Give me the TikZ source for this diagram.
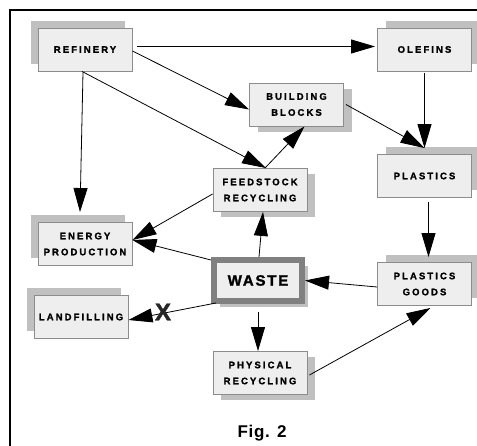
\documentclass[tikz,border=0pt]{standalone}
\usepackage{fontspec}
\usepackage{tikz}
\usetikzlibrary{arrows.meta,shadows}
\setmainfont{Liberation Sans}
\newfontfamily\boxfont[LetterSpace=22,FakeBold=1.4]{Liberation Sans Bold}
\newfontfamily\wastefont[LetterSpace=12,FakeBold=1.6]{Liberation Sans Bold}
\newfontfamily\figfont[LetterSpace=4]{Liberation Sans Bold}
\definecolor{boxfill}{HTML}{EEEEEE}
\definecolor{boxedge}{HTML}{8C8C8C}
\definecolor{shadowgray}{HTML}{C0C0C0}
\definecolor{wasteedge}{HTML}{808080}
\begin{document}
\begin{tikzpicture}[x=1pt, y=-1pt,
    box/.style={draw=boxedge, line width=0.9pt, fill=boxfill, minimum width=94pt, minimum height=43pt,
      inner sep=0pt, align=center, font=\boxfont\fontsize{9.5}{16}\selectfont},
    shadowul/.style={general shadow={fill=shadowgray, shadow xshift=-7pt, shadow yshift=7pt}},
    shadowur/.style={general shadow={fill=shadowgray, shadow xshift=8pt, shadow yshift=7pt}},
    shadowdr/.style={general shadow={fill=shadowgray, shadow xshift=8pt, shadow yshift=-6pt}},
    link/.style={line width=0.8pt, -{Triangle[length=24pt, width=14pt]}}]
    \useasboundingbox (0,0) rectangle (477,446);
    \draw [line width=1.1pt] (10,446) -- (10,10) -- (477,10);

    \node [box, shadowul] (refinery) at (85,49.5) {REFINERY};
    \node [box, shadowur] (olefins) at (424.5,49.5) {OLEFINS};
    \node [box, shadowdr] (blocks) at (296.5,104.5) {BUILDING\\BLOCKS};
    \node [box, shadowur] (plastics) at (424.5,176) {PLASTICS};
    \node [box, shadowdr] (feedstock) at (260,190) {FEEDSTOCK\\RECYCLING};
    \node [box, shadowul] (energy) at (85,244) {ENERGY\\PRODUCTION};
    \node [box, shadowul] (landfill) at (81,317) {LANDFILLING};
    \node [box, draw=wasteedge, line width=6pt, minimum width=88pt, minimum height=41pt,
      general shadow={fill=shadowgray, shadow xshift=6pt, shadow yshift=-6pt},
      font=\wastefont\fontsize{15}{18}\selectfont] (waste) at (258,280.5) {WASTE};
    \node [box, shadowdr] (physical) at (260,373) {PHYSICAL\\RECYCLING};
    \node [box, shadowur] (goods) at (424.5,284) {PLASTICS\\GOODS};

    \draw [link] ([xshift=5pt,yshift=3pt]refinery.east) -- ([xshift=-2pt,yshift=3pt]olefins.west);
    \draw [link] ([yshift=-1.5pt]refinery.east) -- ([yshift=-5pt]blocks.west);
    \draw [link] ([xshift=-3pt]refinery.south) -- ([xshift=6pt]feedstock.north);
    \draw [link] ([xshift=-2pt,yshift=-1pt]refinery.south) -- ([xshift=-5pt,yshift=10pt]energy.north);
    \draw [link] ([xshift=5pt]feedstock.north) -- ([xshift=8pt]blocks.south);
    \draw [link] ([xshift=2pt]blocks.east) -- ([yshift=6pt]plastics.north);
    \draw [link] ([yshift=-2pt]olefins.south) -- ([yshift=6pt]plastics.north);
    \draw [link] ([xshift=4pt,yshift=-4pt]plastics.south) -- ([xshift=4pt,yshift=5pt]goods.north);
    \draw [link] ([yshift=-3pt]goods.west) -- (waste.east);
    \draw [link] ([xshift=1pt]waste.north) -- ([xshift=3pt]feedstock.south);
    \draw [link] ([yshift=-3pt]waste.north west) -- ([yshift=4pt]energy.east);
    \draw [link] ([yshift=-4pt]feedstock.west) -- ([yshift=4pt]energy.east);
    \draw [link] ([xshift=5pt,yshift=1pt]waste.south west) -- ([yshift=-3pt]landfill.east);
    \draw [link] ([yshift=-8pt]waste.south) -- ([xshift=-2pt]physical.north);
    \draw [link] ([xshift=2pt,yshift=-2pt]physical.east) -- ([xshift=6pt,yshift=-2pt]goods.south);

    \node [text=black!85, font=\wastefont\fontsize{24}{24}\selectfont, inner sep=0pt] (cross) at (163,312) {X};
    \node [font=\figfont\fontsize{17}{20}\selectfont] (fig) at (262,433) {Fig. 2};
\end{tikzpicture}
\end{document}
